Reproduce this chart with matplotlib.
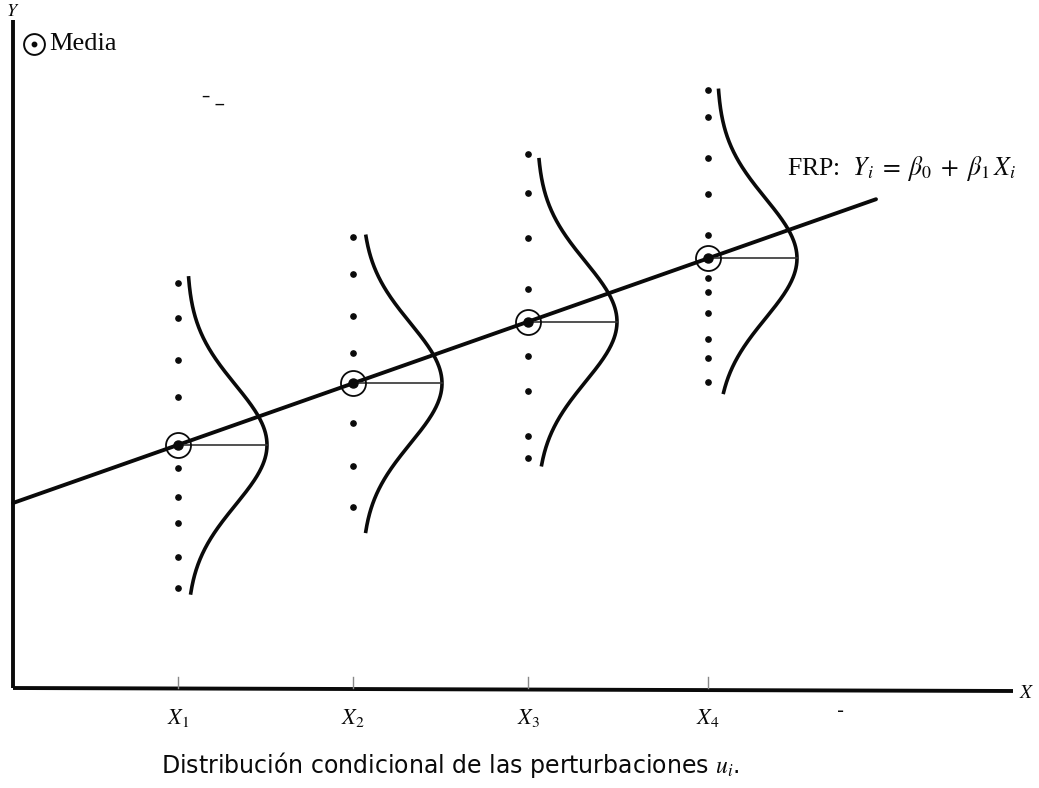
import numpy as np
import matplotlib
matplotlib.use("Agg")
import matplotlib.pyplot as plt

plt.rcParams["mathtext.fontset"] = "stix"

# Population regression function E(Y|X) = beta0 + beta1 * X
beta0 = 185.0
beta1 = 0.352

x_labels = [r"$X_1$", r"$X_2$", r"$X_3$", r"$X_4$"]
x_values = [165, 340, 515, 695]

# Observed Y values around each X
y_obs_1 = [405, 370, 328, 291, 220, 191, 165, 131, 100]
y_obs_2 = [451, 414, 372, 335, 265, 222, 181]
y_obs_3 = [534, 495, 450, 399, 332, 297, 252, 230]
y_obs_4 = [598, 571, 530, 494, 453, 410, 396, 375, 349, 330, 306]
y_obs = [y_obs_1, y_obs_2, y_obs_3, y_obs_4]

# Vertical reach of each conditional density above / below its mean
reach_up = [167, 147, 162, 168]
reach_down = [148, 148, 143, 134]

sigma = 60.0        # spread of the disturbance density
dens_base = 9.0     # gap between the dots and the density tails
dens_height = 80.0  # peak height of each density (drawn sideways)

fig = plt.figure(figsize=(10.39, 7.88), dpi=100)
ax = fig.add_axes([0, 0, 1, 1])
ax.set_xlim(-13, 1026)
ax.set_ylim(-100, 688)
ax.axis("off")

ink = "#0a0a0a"

# Axes
ax.plot([0, 1000], [0, -3], color=ink, lw=2.8, solid_capstyle="butt")
ax.plot([0, 0], [0, 668], color=ink, lw=2.8, solid_capstyle="butt")
ax.text(1006, -4, r"$X$", fontsize=14, ha="left", va="center", color=ink)
ax.text(0, 677, r"$Y$", fontsize=13, ha="center", va="center", color=ink)

# Regression line
x_line = np.array([0, 863])
ax.plot(x_line, beta0 + beta1 * x_line, color=ink, lw=2.8, solid_capstyle="round")

for i, (xv, obs) in enumerate(zip(x_values, y_obs)):
    mean = beta0 + beta1 * xv
    # tick on the X axis
    ax.plot([xv, xv], [0, 11], color="#888888", lw=1.0)
    ax.text(xv, -30, x_labels[i], fontsize=16, ha="center", va="center", color=ink)
    # observations
    ax.plot([xv] * len(obs), obs, ls="none", marker="o", ms=3.8, color=ink)
    # conditional density of u_i, drawn sideways
    d = np.linspace(-reach_down[i], reach_up[i], 300)
    xs = xv + dens_base + dens_height * np.exp(-d ** 2 / (2 * sigma ** 2))
    ax.plot(xs, mean + d, color=ink, lw=2.6)
    # distance from the mean to the peak
    ax.plot([xv, xv + dens_base + dens_height], [mean, mean], color="#333333", lw=1.2)
    # circled mean
    ax.plot(xv, mean, marker="o", ms=18, mfc="none", mec=ink, mew=1.3)
    ax.plot(xv, mean, marker="o", ms=6.5, color=ink)

# Legend for the mean marker
ax.plot(21, 644, marker="o", ms=15, mfc="none", mec=ink, mew=1.4)
ax.plot(21, 644, marker="o", ms=3.2, color=ink)
ax.text(36, 644, "Media", fontsize=19, family="Liberation Serif", ha="left", va="center", color=ink)

# Label of the regression function
ax.text(774, 520, r"FRP:  $Y_i\;=\;\beta_0\;+\;\beta_1\, X_i$", fontsize=18.5,
        family="Liberation Serif", ha="left", va="center", color=ink)

# Small marks
ax.text(200, 592, "\u2013 _", fontsize=12, ha="center", va="center", color=ink)
ax.text(828, -24, "-", fontsize=14, ha="center", va="center", color=ink)

# Caption
ax.text(437, -77, "Distribución condicional de las perturbaciones $u_i$.",
        fontsize=17, family="DejaVu Sans", ha="center", va="center", color=ink)

fig.savefig("out.png", dpi=100, facecolor="white")
